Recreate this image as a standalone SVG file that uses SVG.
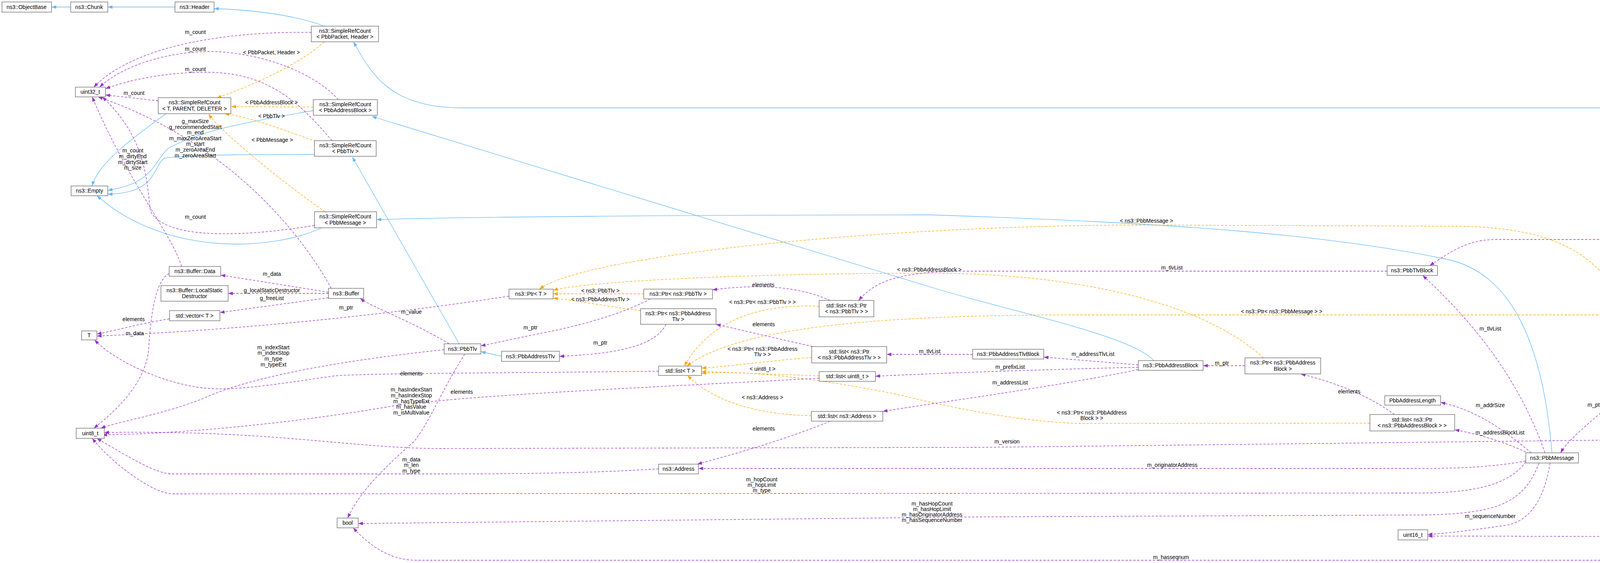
<svg xmlns="http://www.w3.org/2000/svg" width="4923" height="1441" viewBox="0 0 4923 1441">
<style>
text{font-family:"Liberation Sans",Arial,sans-serif;font-size:14px;fill:#000;text-anchor:middle}
.n rect{fill:#fff;stroke:#666;stroke-width:1.3}
.cur rect{fill:#999}
.e path{fill:none;stroke-width:1.3}
.i{stroke:#63b8ff}
.u{stroke:#9a32cd;stroke-dasharray:6,4}
.t{stroke:#ffa500;stroke-dasharray:6,4}
</style>
<defs>
<marker id="mi" markerWidth="12" markerHeight="9" refX="12" refY="4.5" orient="auto" markerUnits="userSpaceOnUse"><path d="M0,0L12,4.5L0,9z" fill="#63b8ff"/></marker>
<marker id="mu" markerWidth="12" markerHeight="9" refX="12" refY="4.5" orient="auto" markerUnits="userSpaceOnUse"><path d="M0,0L12,4.5L0,9z" fill="#9a32cd"/></marker>
<marker id="mt" markerWidth="12" markerHeight="9" refX="12" refY="4.5" orient="auto" markerUnits="userSpaceOnUse"><path d="M0,0L12,4.5L0,9z" fill="#ffa500"/></marker>
</defs>
<g id="edges" class="e">
<g marker-end="url(#mi)" class="i">
<path class="i" d="M181,18L132,18"/>
<path class="i" d="M448,18L276,18"/>
<path class="i" d="M830,67C760,40 650,25 548,22"/>
<path class="i" d="M4845,977C4820,600 4760,276 4600,276L1180,276C1000,276 950,190 905,107"/>
<path class="i" d="M425,291C330,360 250,420 236,476"/>
<path class="i" d="M802,283C650,310 520,330 430,380C390,420 390,470 276,487"/>
<path class="i" d="M805,395C700,395 480,395 420,405C390,430 400,495 276,497"/>
<path class="i" d="M824,583C700,640 430,660 248,501"/>
<path class="i" d="M2955,924C2900,860 2600,800 2400,740L952,298"/>
<path class="i" d="M1176,881L902,402"/>
<path class="i" d="M1284,912L1231,900"/>
<path class="i" d="M3973,1159C3950,880 3870,700 3706,664C3400,600 3000,570 2381,550C1800,550 1200,555 964,562"/>
</g>
<path class="t" marker-end="url(#mt)" d="M830,107C760,170 640,220 555,251"/>
<path class="t" marker-end="url(#mt)" d="M802,274L592,273"/>
<path class="t" marker-end="url(#mt)" d="M808,362C720,330 640,300 575,291"/>
<path class="t" marker-end="url(#mt)" d="M832,542C700,450 560,330 534,292"/>
<path class="t" marker-end="url(#mt)" d="M1648,752L1416,752"/>
<path class="t" marker-end="url(#mt)" d="M1640,795C1560,785 1480,770 1416,763"/>
<path class="t" marker-end="url(#mt)" d="M3234,916C3100,790 2800,700 2380,699C1900,700 1500,720 1416,743"/>
<path class="t" marker-end="url(#mt)" d="M4207,902C4140,720 4080,579 3720,579L2935,576C2300,575 1500,650 1381,740"/>
<path class="t" marker-end="url(#mt)" d="M2097,784C1900,775 1800,850 1752,937"/>
<path class="t" marker-end="url(#mt)" d="M2078,915C1950,925 1850,940 1796,942"/>
<path class="t" marker-end="url(#mt)" d="M2097,962L1796,951"/>
<path class="t" marker-end="url(#mt)" d="M2077,1064C1900,1060 1810,1010 1760,961"/>
<path class="t" marker-end="url(#mt)" d="M3507,1083L2763,1084C2650,1080 2500,1060 2300,1010C2000,950 1850,950 1796,956"/>
<path class="t" marker-end="url(#mt)" d="M4521,894C4450,830 4350,806 4254,806L2763,806C2300,806 1900,830 1758,937"/>
<g marker-end="url(#mu)" class="u">
<path class="u" d="M797,83C600,80 350,110 240,223"/>
<path class="u" d="M866,255C800,180 650,130 530,132C400,135 300,180 255,223"/>
<path class="u" d="M850,360C780,280 700,185 530,185C420,185 330,205 270,227"/>
<path class="u" d="M405,258L270,243"/>
<path class="u" d="M805,577C600,610 420,610 385,540C375,450 370,350 262,248"/>
<path class="u" d="M465,682C440,600 330,470 236,248"/>
<path class="u" d="M848,738C750,560 550,350 251,248"/>
<path class="u" d="M841,748L565,704"/>
<path class="u" d="M841,751L584,751"/>
<path class="u" d="M841,762L563,800"/>
<path class="u" d="M434,816C350,830 300,845 248,855"/>
<path class="u" d="M1303,758C900,820 500,850 248,860"/>
<path class="u" d="M1150,880C1050,820 960,790 922,764"/>
<path class="u" d="M433,700C395,720 385,820 380,900C370,980 300,1050 240,1096"/>
<path class="u" d="M1686,950C1300,955 900,955 850,963C700,985 600,1000 530,994C430,985 300,930 242,870"/>
<path class="u" d="M1137,895C900,920 650,960 520,1020C420,1060 300,1080 258,1096"/>
<path class="u" d="M2097,968C1700,990 1200,1010 1000,1040C800,1075 500,1110 262,1113"/>
<path class="u" d="M4830,1002C4780,1080 4700,1121 4584,1121C4200,1125 3000,1140 2500,1145L1130,1148C900,1148 700,1100 267,1107"/>
<path class="u" d="M1686,1200C1500,1212 1300,1213 1100,1213L440,1213C400,1213 330,1170 248,1122"/>
<path class="u" d="M3906,1182C3850,1262 3705,1262 3600,1262L440,1264C400,1264 300,1200 236,1122"/>
<path class="u" d="M1190,906C1130,1000 1100,1080 1060,1130C980,1200 920,1260 890,1326"/>
<path class="u" d="M3940,1185C3900,1290 3830,1314 3650,1318L2512,1323L917,1340"/>
<path class="u" d="M4860,1002C4840,1200 4800,1434 4600,1434L1067,1434C1000,1434 950,1400 904,1351"/>
<path class="u" d="M3906,1180C3800,1199 3705,1199 3600,1199L1788,1199"/>
<path class="u" d="M3968,1185C3950,1300 3900,1340 3850,1345C3750,1360 3700,1365 3655,1368"/>
<path class="u" d="M4840,1002C4800,1200 4750,1374 4570,1374L3655,1372"/>
<path class="u" d="M3955,1159C3900,1000 3800,850 3642,705"/>
<path class="u" d="M3920,1159C3850,1100 3780,1050 3688,1030"/>
<path class="u" d="M3915,1161C3850,1130 3780,1110 3724,1100"/>
<path class="u" d="M4222,927C4150,1030 4030,1100 3995,1159"/>
<path class="u" d="M4462,915L4348,915"/>
<path class="u" d="M4803,980C4720,960 4680,940 4640,935"/>
<path class="u" d="M4830,977C4800,780 4700,613 4521,613L3830,613C3760,613 3720,640 3660,680"/>
<path class="u" d="M3551,694L2480,694C2300,694 2240,720 2198,769"/>
<path class="u" d="M2125,769C2050,735 1950,725 1824,742"/>
<path class="u" d="M2080,887L1833,830"/>
<path class="u" d="M2490,907L2270,907"/>
<path class="u" d="M2914,934L2672,914"/>
<path class="u" d="M2914,940C2700,945 2400,955 2241,963"/>
<path class="u" d="M2914,946C2700,990 2400,1030 2260,1053"/>
<path class="u" d="M3187,936L3080,936"/>
<path class="u" d="M3570,1061C3500,1010 3420,980 3330,957"/>
<path class="u" d="M2125,1078C2000,1130 1850,1170 1785,1188"/>
<path class="u" d="M1665,765C1600,800 1500,830 1400,850C1300,870 1260,880 1231,885"/>
<path class="u" d="M1705,830C1680,880 1600,905 1432,912"/>
</g>
<g id="elabels">
<text x="695" y="139">&lt; PbbPacket, Header &gt;</text>
<text x="695" y="267">&lt; PbbAddressBlock &gt;</text>
<text x="695" y="302">&lt; PbbTlv &gt;</text>
<text x="697" y="363">&lt; PbbMessage &gt;</text>
<text x="500" y="87">m_count</text>
<text x="500" y="130">m_count</text>
<text x="500" y="182">m_count</text>
<text x="343" y="243">m_count</text>
<text x="500" y="560">m_count</text>
<text x="340" y="390">m_count</text><text x="340" y="405">m_dirtyEnd</text><text x="340" y="420">m_dirtyStart</text><text x="340" y="434">m_size</text>
<text x="500" y="315">g_maxSize</text><text x="500" y="330">g_recommendedStart</text><text x="500" y="344">m_end</text><text x="500" y="359">m_maxZeroAreaStart</text><text x="500" y="373">m_start</text><text x="500" y="388">m_zeroAreaEnd</text><text x="500" y="403">m_zeroAreaStart</text>
<text x="696" y="706">m_data</text>
<text x="696" y="748">g_localStaticDestructor</text>
<text x="696" y="768">g_freeList</text>
<text x="342" y="822">elements</text>
<text x="345" y="858">m_data</text>
<text x="886" y="792">m_ptr</text>
<text x="1053" y="803">m_value</text>
<text x="700" y="894">m_indexStart</text><text x="700" y="908">m_indexStop</text><text x="700" y="923">m_type</text><text x="700" y="938">m_typeExt</text>
<text x="1053" y="961">elements</text>
<text x="1182" y="1008">elements</text>
<text x="1053" y="1002">m_hasIndexStart</text><text x="1053" y="1017">m_hasIndexStop</text><text x="1053" y="1032">m_hasTypeExt</text><text x="1053" y="1046">m_hasValue</text><text x="1053" y="1061">m_isMultivalue</text>
<text x="1053" y="1181">m_data</text><text x="1053" y="1195">m_len</text><text x="1053" y="1210">m_type</text>
<text x="1537" y="749">&lt; ns3::PbbTlv &gt;</text>
<text x="1537" y="771">&lt; ns3::PbbAddressTlv &gt;</text>
<text x="1358" y="843">m_ptr</text>
<text x="1537" y="882">m_ptr</text>
<text x="1954" y="734">elements</text>
<text x="1952" y="778">&lt; ns3::Ptr&lt; ns3::PbbTlv &gt; &gt;</text>
<text x="1955" y="835">elements</text>
<text x="1952" y="898">&lt; ns3::Ptr&lt; ns3::PbbAddress</text><text x="1952" y="912">Tlv &gt; &gt;</text>
<text x="1952" y="949">&lt; uint8_t &gt;</text>
<text x="1952" y="1022">&lt; ns3::Address &gt;</text>
<text x="1955" y="1102">elements</text>
<text x="1950" y="1232">m_hopCount</text><text x="1950" y="1246">m_hopLimit</text><text x="1950" y="1260">m_type</text>
<text x="2386" y="1294">m_hasHopCount</text><text x="2386" y="1308">m_hasHopLimit</text><text x="2386" y="1322">m_hasOriginatorAddress</text><text x="2386" y="1336">m_hasSequenceNumber</text>
<text x="2998" y="1431">m_hasseqnum</text>
<text x="2380" y="904">m_tlvList</text>
<text x="2379" y="695">&lt; ns3::PbbAddressBlock &gt;</text>
<text x="2935" y="570">&lt; ns3::PbbMessage &gt;</text>
<text x="3000" y="690">m_tlvList</text>
<text x="3281" y="802">&lt; ns3::Ptr&lt; ns3::PbbMessage &gt; &gt;</text>
<text x="2798" y="911">m_addressTlvList</text>
<text x="2586" y="944">m_prefixList</text>
<text x="2586" y="984">m_addressList</text>
<text x="3128" y="934">m_ptr</text>
<text x="3454" y="1007">elements</text>
<text x="2795" y="1061">&lt; ns3::Ptr&lt; ns3::PbbAddress</text><text x="2795" y="1075">Block &gt; &gt;</text>
<text x="2578" y="1135">m_version</text>
<text x="3001" y="1195">m_originatorAddress</text>
<text x="3815" y="846">m_tlvList</text>
<text x="4082" y="1041">m_ptr</text>
<text x="3815" y="1042">m_addrSize</text>
<text x="3840" y="1112">m_addressBlockList</text>
<text x="3815" y="1326">m_sequenceNumber</text>
<text x="4239" y="1371">m_seqnum</text>
<text x="4242" y="609">m_tlvList</text>
<text x="4406" y="911">elements</text>
<text x="4722" y="940">m_messageList</text>
</g>
</g>
<g id="ObjectBase" class="n"><rect x="5" y="5" width="127" height="26"/><text x="68" y="23">ns3::ObjectBase</text></g>
<g id="Chunk" class="n"><rect x="181" y="5" width="95" height="26"/><text x="228" y="23">ns3::Chunk</text></g>
<g id="Header" class="n"><rect x="448" y="5" width="100" height="26"/><text x="498" y="23">ns3::Header</text></g>
<g id="SRC_PH" class="n"><rect x="797" y="67" width="172" height="40"/><text x="883" y="84">ns3::SimpleRefCount</text><text x="883" y="99">&lt; PbbPacket, Header &gt;</text></g>
<g id="uint32_t" class="n"><rect x="193" y="223" width="77" height="25"/><text x="231" y="240">uint32_t</text></g>
<g id="SRC_TPD" class="n"><rect x="405" y="250" width="186" height="41"/><text x="498" y="267">ns3::SimpleRefCount</text><text x="498" y="283">&lt; T, PARENT, DELETER &gt;</text></g>
<g id="SRC_AB" class="n"><rect x="802" y="255" width="164" height="40"/><text x="884" y="272">ns3::SimpleRefCount</text><text x="884" y="287">&lt; PbbAddressBlock &gt;</text></g>
<g id="SRC_Tlv" class="n"><rect x="805" y="360" width="158" height="40"/><text x="884" y="377">ns3::SimpleRefCount</text><text x="884" y="392">&lt; PbbTlv &gt;</text></g>
<g id="Empty" class="n"><rect x="182" y="476" width="94" height="25"/><text x="229" y="493">ns3::Empty</text></g>
<g id="SRC_Msg" class="n"><rect x="805" y="542" width="159" height="41"/><text x="884" y="559">ns3::SimpleRefCount</text><text x="884" y="575">&lt; PbbMessage &gt;</text></g>
<g id="BufferData" class="n"><rect x="433" y="682" width="132" height="25"/><text x="499" y="699">ns3::Buffer::Data</text></g>
<g id="LSD" class="n"><rect x="412" y="731" width="172" height="40"/><text x="498" y="748">ns3::Buffer::LocalStatic</text><text x="498" y="763">Destructor</text></g>
<g id="Buffer" class="n"><rect x="841" y="738" width="90" height="26"/><text x="886" y="756">ns3::Buffer</text></g>
<g id="vectorT" class="n"><rect x="434" y="795" width="129" height="26"/><text x="498" y="813">std::vector&lt; T &gt;</text></g>
<g id="T" class="n"><rect x="209" y="847" width="39" height="23"/><text x="228" y="863">T</text></g>
<g id="PtrT" class="n"><rect x="1303" y="740" width="113" height="25"/><text x="1359" y="757">ns3::Ptr&lt; T &gt;</text></g>
<g id="PtrTlv" class="n"><rect x="1648" y="740" width="176" height="25"/><text x="1736" y="757">ns3::Ptr&lt; ns3::PbbTlv &gt;</text></g>
<g id="PtrATlv" class="n"><rect x="1640" y="790" width="193" height="40"/><text x="1736" y="807">ns3::Ptr&lt; ns3::PbbAddress</text><text x="1736" y="822">Tlv &gt;</text></g>
<g id="PbbTlv" class="n"><rect x="1137" y="880" width="94" height="26"/><text x="1184" y="898">ns3::PbbTlv</text></g>
<g id="PbbAddressTlv" class="n"><rect x="1284" y="899" width="148" height="26"/><text x="1358" y="917">ns3::PbbAddressTlv</text></g>
<g id="listPtrTlv" class="n"><rect x="2097" y="769" width="140" height="42"/><text x="2167" y="787">std::list&lt; ns3::Ptr</text><text x="2167" y="802">&lt; ns3::PbbTlv &gt; &gt;</text></g>
<g id="listPtrATlv" class="n"><rect x="2078" y="887" width="192" height="42"/><text x="2174" y="905">std::list&lt; ns3::Ptr</text><text x="2174" y="920">&lt; ns3::PbbAddressTlv &gt; &gt;</text></g>
<g id="listT" class="n"><rect x="1686" y="937" width="110" height="24"/><text x="1741" y="954">std::list&lt; T &gt;</text></g>
<g id="listU8" class="n"><rect x="2097" y="951" width="144" height="25"/><text x="2169" y="968">std::list&lt; uint8_t &gt;</text></g>
<g id="listAddr" class="n"><rect x="2077" y="1053" width="183" height="25"/><text x="2168" y="1070">std::list&lt; ns3::Address &gt;</text></g>
<g id="Address" class="n"><rect x="1686" y="1188" width="102" height="25"/><text x="1737" y="1205">ns3::Address</text></g>
<g id="PbbAddressTlvBlock" class="n"><rect x="2490" y="894" width="182" height="25"/><text x="2581" y="911">ns3::PbbAddressTlvBlock</text></g>
<g id="PbbAddressBlock" class="n"><rect x="2914" y="923" width="166" height="25"/><text x="2997" y="940">ns3::PbbAddressBlock</text></g>
<g id="PtrAB" class="n"><rect x="3187" y="916" width="194" height="41"/><text x="3284" y="933">ns3::Ptr&lt; ns3::PbbAddress</text><text x="3284" y="949">Block &gt;</text></g>
<g id="PbbAddressLength" class="n"><rect x="3545" y="1013" width="143" height="24"/><text x="3616" y="1030">PbbAddressLength</text></g>
<g id="listPtrAB" class="n"><rect x="3507" y="1061" width="217" height="42"/><text x="3615" y="1079">std::list&lt; ns3::Ptr</text><text x="3615" y="1094">&lt; ns3::PbbAddressBlock &gt; &gt;</text></g>
<g id="PbbTlvBlock" class="n"><rect x="3551" y="680" width="129" height="25"/><text x="3615" y="697">ns3::PbbTlvBlock</text></g>
<g id="PtrMsg" class="n"><rect x="4132" y="902" width="216" height="25"/><text x="4240" y="919">ns3::Ptr&lt; ns3::PbbMessage &gt;</text></g>
<g id="listPtrMsg" class="n"><rect x="4462" y="894" width="182" height="41"/><text x="4553" y="911">std::list&lt; ns3::Ptr</text><text x="4553" y="927">&lt; ns3::PbbMessage &gt; &gt;</text></g>
<g id="PbbPacket" class="n cur"><rect x="4797" y="977" width="117" height="25"/><text x="4855" y="994">ns3::PbbPacket</text></g>
<g id="PbbMessage" class="n"><rect x="3906" y="1159" width="135" height="26"/><text x="3973" y="1177">ns3::PbbMessage</text></g>
<g id="uint8_t" class="n"><rect x="195" y="1096" width="72" height="26"/><text x="231" y="1114">uint8_t</text></g>
<g id="bool" class="n"><rect x="863" y="1326" width="54" height="25"/><text x="890" y="1343">bool</text></g>
<g id="uint16_t" class="n"><rect x="3579" y="1356" width="76" height="26"/><text x="3617" y="1374">uint16_t</text></g>
</svg>
